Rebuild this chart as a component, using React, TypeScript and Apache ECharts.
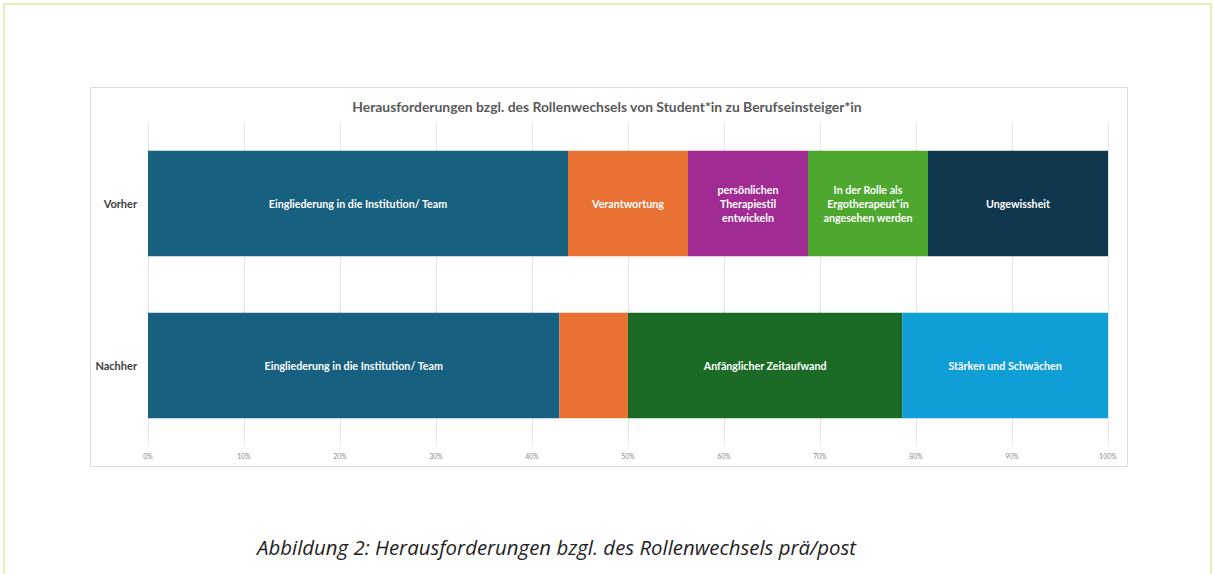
import React, { useEffect, useRef } from "react";
import * as echarts from "echarts";

const categories = ["Vorher", "Nachher"];
const seriesNames = [
  "Eingliederung in die Institution/ Team",
  "Verantwortung",
  "persönlichen Therapiestil entwickeln",
  "In der Rolle als Ergotherapeut*in angesehen werden",
  "Anfänglicher Zeitaufwand",
  "Ungewissheit",
  "Stärken und Schwächen",
];
const seriesLabels = [
  "Eingliederung in die Institution/ Team",
  "Verantwortung",
  "persönlichen\nTherapiestil\nentwickeln",
  "In der Rolle als\nErgotherapeut*in\nangesehen werden",
  "Anfänglicher Zeitaufwand",
  "Ungewissheit",
  "Stärken und Schwächen",
];
const eingliederung = [43.75, 42.86];
const verantwortung = [12.5, 7.14];
const therapiestil = [12.5, null];
const rolle = [12.5, null];
const zeitaufwand = [null, 28.57];
const ungewissheit = [18.75, null];
const staerken = [null, 21.43];
const seriesValues = [eingliederung, verantwortung, therapiestil, rolle, zeitaufwand, ungewissheit, staerken];
// labels hidden in the reference for these [seriesIndex, categoryIndex]
const hiddenLabels = [[1, 1]];
const seriesColors = ["#17607f", "#e87133", "#a02b93", "#4ea72e", "#1b6b26", "#0f384e", "#0f9ed5"];
const xTicks = { min: 0, max: 100, interval: 10 };

const titleText = "Herausforderungen bzgl. des Rollenwechsels von Student*in zu Berufseinsteiger*in";
const captionText = "Abbildung 2: Herausforderungen bzgl. des Rollenwechsels prä/post";

export default function App() {
  const ref = useRef<HTMLDivElement>(null);
  useEffect(() => {
    if (!ref.current) return;
    const chart = echarts.init(ref.current, null, { renderer: "svg" });
    const series = seriesNames.map((name, si) => ({
      name,
      type: "bar",
      stack: "total",
      barCategoryGap: "35%",
      itemStyle: { color: seriesColors[si] },
      label: {
        show: true,
        position: "inside",
        color: "#ffffff",
        fontWeight: "bold",
        fontFamily: "Lato",
        fontSize: 10.7,
        lineHeight: 14.3,
        align: "center",
        formatter: () => seriesLabels[si],
      },
      data: seriesValues[si].map((v, ci) => {
        if (v === null) return "-";
        const hide = hiddenLabels.some(([s, c]) => s === si && c === ci);
        return hide ? { value: v, label: { show: false } } : v;
      }),
    }));
    chart.setOption({
      animation: false,
      backgroundColor: "#ffffff",
      title: [
        {
          text: titleText,
          left: "center",
          top: 94,
          textStyle: { fontFamily: "Lato", fontWeight: "bold", fontSize: 13.9, color: "#595959" },
        },
      ],
      graphic: [
        {
          type: "rect",
          shape: { x: 4, y: 4, width: 1207, height: 620 },
          style: { fill: "none", stroke: "#e7eeb7", lineWidth: 2 },
          silent: true,
        },
        {
          type: "rect",
          shape: { x: 90.5, y: 87.5, width: 1037, height: 379 },
          style: { fill: "none", stroke: "#dcdcdc", lineWidth: 1 },
          silent: true,
        },
        {
          type: "text",
          x: 257,
          y: 547,
          style: {
            text: captionText,
            fontFamily: "Open Sans",
            fontStyle: "italic",
            fontSize: 20.4,
            fill: "#1e1e1e",
            verticalAlign: "middle",
          },
          silent: true,
        },
      ],
      grid: { left: 148, right: 106, top: 122.5, bottom: 127.5, containLabel: false, outerBoundsMode: "none" },
      xAxis: {
        type: "value",
        min: xTicks.min,
        max: xTicks.max,
        interval: xTicks.interval,
        axisLine: { show: false },
        axisTick: { show: false },
        splitLine: { show: true, lineStyle: { color: "#e6e6e6", width: 1 } },
        axisLabel: { formatter: "{value}%", fontFamily: "Lato", fontSize: 7, color: "#8c8c8c", margin: 6 },
      },
      yAxis: {
        type: "category",
        inverse: true,
        data: categories,
        axisLine: { show: false },
        axisTick: { show: false },
        axisLabel: { fontFamily: "Lato", fontWeight: "bold", fontSize: 11, color: "#404040", margin: 11 },
      },
      series,
    });
    return () => chart.dispose();
  }, []);
  return (
    <div
      ref={ref}
      style={{ position: "absolute", left: 0, top: 0, width: 1214, height: 574, background: "#fff" }}
    />
  );
}
